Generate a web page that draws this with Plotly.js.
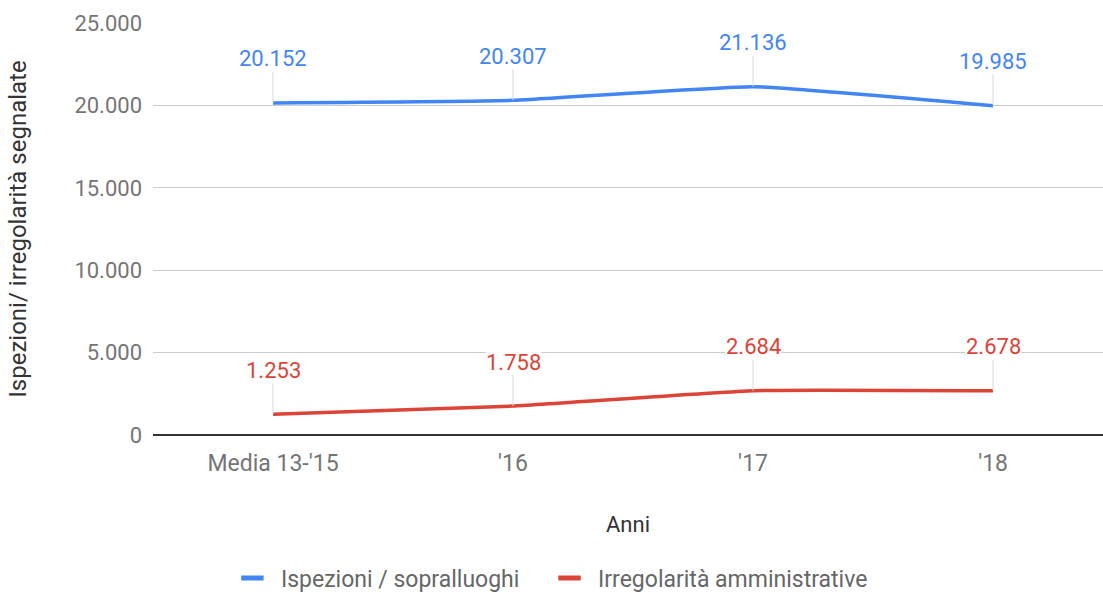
<!DOCTYPE html>
<html>
<head>
<meta charset="utf-8">
<script src="https://cdn.plot.ly/plotly-3.0.1.min.js"></script>
<style>html,body{margin:0;padding:0;background:#fff;}#chart{width:1103px;height:592px;}</style>
</head>
<body>
<div id="chart"></div>
<script>
const categories = ["Media 13-'15", "'16", "'17", "'18"];
const ispezioni = [20152, 20307, 21136, 19985];
const irregolarita = [1253, 1758, 2684, 2678];
const seriesNames = ["Ispezioni / sopralluoghi", "Irregolarità amministrative"];
const yTicks = [0, 5000, 10000, 15000, 20000, 25000];

const blue = "#4285F4";
const red = "#DB4437";
const fontFam = "Roboto, 'Open Sans', sans-serif";
const fs = 22;

function fmt(v) {
  return String(v).replace(/\B(?=(\d{3})+(?!\d))/g, ".");
}

const traces = [
  {x: categories, y: ispezioni, name: seriesNames[0], type: "scatter", mode: "lines", showlegend: false,
   line: {color: blue, width: 3.5, shape: "spline", smoothing: 0.35}},
  {x: categories, y: irregolarita, name: seriesNames[1], type: "scatter", mode: "lines", showlegend: false,
   line: {color: red, width: 3.5, shape: "spline", smoothing: 0.35}},
  {x: [null], y: [null], name: seriesNames[0], type: "scatter", mode: "markers", showlegend: true, legend: "legend",
   marker: {symbol: "line-ew-open", size: 22, color: blue, line: {width: 7, color: blue}}},
  {x: [null], y: [null], name: seriesNames[1], type: "scatter", mode: "markers", showlegend: true, legend: "legend2",
   marker: {symbol: "line-ew-open", size: 22, color: red, line: {width: 7, color: red}}}
];

const annotations = [];
[[ispezioni, blue], [irregolarita, red]].forEach(([arr, col]) => {
  arr.forEach((v, i) => {
    annotations.push({
      x: categories[i], y: v, xref: "x", yref: "y",
      text: fmt(v), showarrow: true, arrowhead: 0, arrowwidth: 1, arrowcolor: "#d9d9d9",
      ax: 0, ay: -44, font: {family: fontFam, size: fs, color: col},
      bgcolor: "rgba(255,255,255,0.9)", borderpad: 0
    });
  });
});

const legendBase = {orientation: "h", xref: "container", yref: "container",
  xanchor: "left", y: 0.0236, yanchor: "middle",
  font: {family: fontFam, size: 23, color: "#666"}, itemwidth: 47, bgcolor: "rgba(0,0,0,0)"};

const layout = {
  width: 1103, height: 592,
  margin: {l: 153, r: 0, t: 23, b: 157},
  paper_bgcolor: "#fff", plot_bgcolor: "#fff",
  separators: ",.",
  font: {family: fontFam, size: fs, color: "#757575"},
  showlegend: true,
  legend: Object.assign({}, legendBase, {x: 0.203}),
  legend2: Object.assign({}, legendBase, {x: 0.4905}),
  xaxis: {
    type: "category", range: [-0.5, 3.458], showgrid: false, zeroline: false, automargin: false,
    showline: false, ticks: "", tickfont: {size: 23, color: "#757575"}, ticklabelstandoff: 12,
    title: {text: "Anni", font: {size: fs, color: "#333"}, standoff: 40}
  },
  yaxis: {
    range: [0, 25000], tickvals: yTicks, ticktext: yTicks.map(fmt), automargin: false,
    showgrid: true, gridcolor: "#cccccc", gridwidth: 1,
    zeroline: true, zerolinecolor: "#333", zerolinewidth: 1.5,
    ticks: "", ticklen: 0, tickfont: {size: fs, color: "#757575"}, ticklabelstandoff: 10,
    title: {text: "Ispezioni/ irregolarità segnalate", font: {size: 24, color: "#333"}, standoff: 40}
  },
  annotations: annotations
};

Plotly.newPlot("chart", traces, layout, {displayModeBar: false, staticPlot: true});
</script>
</body>
</html>
